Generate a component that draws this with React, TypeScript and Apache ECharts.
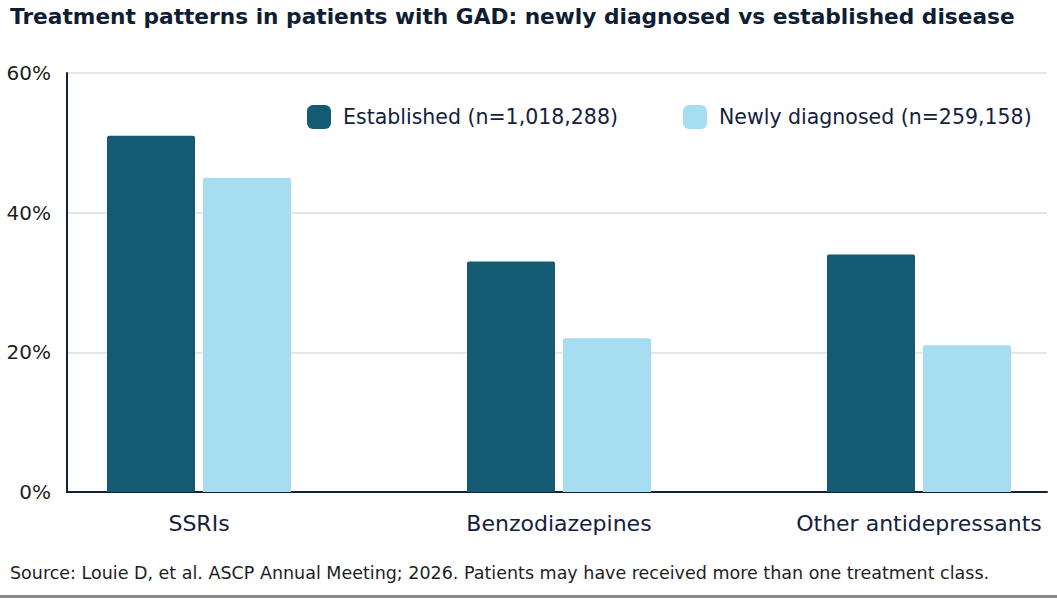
import React, { useEffect, useRef } from "react";
import * as echarts from "echarts";

const categories = ["SSRIs", "Benzodiazepines", "Other antidepressants"];
const seriesNames = ["Established (n=1,018,288)", "Newly diagnosed (n=259,158)"];
const establishedValues = [51, 33, 34];
const newlyDiagnosedValues = [45, 22, 21];
const yTicks = [0, 20, 40, 60];

const titleText = "Treatment patterns in patients with GAD: newly diagnosed vs established disease";
const sourceText =
  "Source: Louie D, et al. ASCP Annual Meeting; 2026. Patients may have received more than one treatment class.";

const FONT = "'DejaVu Sans', 'Open Sans', sans-serif";
const NAVY = "#14213d";
const DARK = "#135b72";
const LIGHT = "#a6ddf1";

export default function App() {
  const ref = useRef<HTMLDivElement>(null);

  useEffect(() => {
    if (!ref.current) return;
    const chart = echarts.init(ref.current, undefined, { renderer: "svg" });

    const legendBase = {
      top: 105,
      padding: 0,
      itemWidth: 24,
      itemHeight: 24,
      icon: "roundRect",
      selectedMode: false,
      textStyle: {
        fontFamily: FONT,
        fontSize: 20.5,
        color: NAVY,
        padding: [5, 0, 0, 7],
      },
    };

    chart.setOption({
      animation: false,
      backgroundColor: "#ffffff",
      textStyle: { fontFamily: FONT },
      title: {
        text: titleText,
        left: 10,
        top: 5,
        padding: 0,
        textStyle: {
          fontFamily: FONT,
          fontSize: 21.7,
          fontWeight: "bold",
          color: "#0f1e33",
        },
      },
      legend: [
        { ...legendBase, left: 307, data: [seriesNames[0]] },
        { ...legendBase, left: 683, data: [seriesNames[1]] },
      ],
      grid: { left: 67, right: 10, top: 73, bottom: 113, containLabel: false },
      xAxis: {
        type: "value",
        min: -0.36667,
        max: 2.35556,
        splitLine: { show: false },
        axisTick: { show: false },
        axisLine: { show: true, lineStyle: { color: NAVY, width: 2 } },
        axisLabel: {
          customValues: [0, 1, 2],
          formatter: (v: number) => categories[Math.round(v)] ?? "",
          margin: 20,
          fontFamily: FONT,
          fontSize: 22,
          color: NAVY,
        },
      },
      yAxis: {
        type: "value",
        min: yTicks[0],
        max: yTicks[yTicks.length - 1],
        interval: 20,
        axisLine: { show: true, onZero: false, lineStyle: { color: NAVY, width: 2 } },
        axisTick: { show: false },
        splitLine: { lineStyle: { color: "#e6e6e6", width: 2 } },
        axisLabel: {
          formatter: "{value}%",
          margin: 16,
          fontFamily: FONT,
          fontSize: 20,
          color: "#1e1e1e",
        },
      },
      series: [
        {
          name: seriesNames[0],
          type: "bar",
          barWidth: 88,
          barGap: "9.1%",
          itemStyle: { color: DARK, borderRadius: [2, 2, 0, 0] },
          data: establishedValues.map((v, i) => [i, v]),
        },
        {
          name: seriesNames[1],
          type: "bar",
          barWidth: 88,
          barGap: "9.1%",
          itemStyle: { color: LIGHT, borderRadius: [2, 2, 0, 0] },
          data: newlyDiagnosedValues.map((v, i) => [i, v]),
        },
      ],
      graphic: [
        {
          type: "text",
          left: 10,
          top: 564,
          style: {
            text: sourceText,
            fontFamily: FONT,
            fontSize: 17.5,
            fill: "#1e1e1e",
          },
        },
        {
          type: "rect",
          left: 0,
          top: 595,
          shape: { width: 1057, height: 3 },
          style: { fill: "#858b94" },
        },
      ],
    });

    return () => chart.dispose();
  }, []);

  return (
    <div
      ref={ref}
      style={{ position: "fixed", left: 0, top: 0, width: 1057, height: 605, background: "#fff" }}
    />
  );
}
